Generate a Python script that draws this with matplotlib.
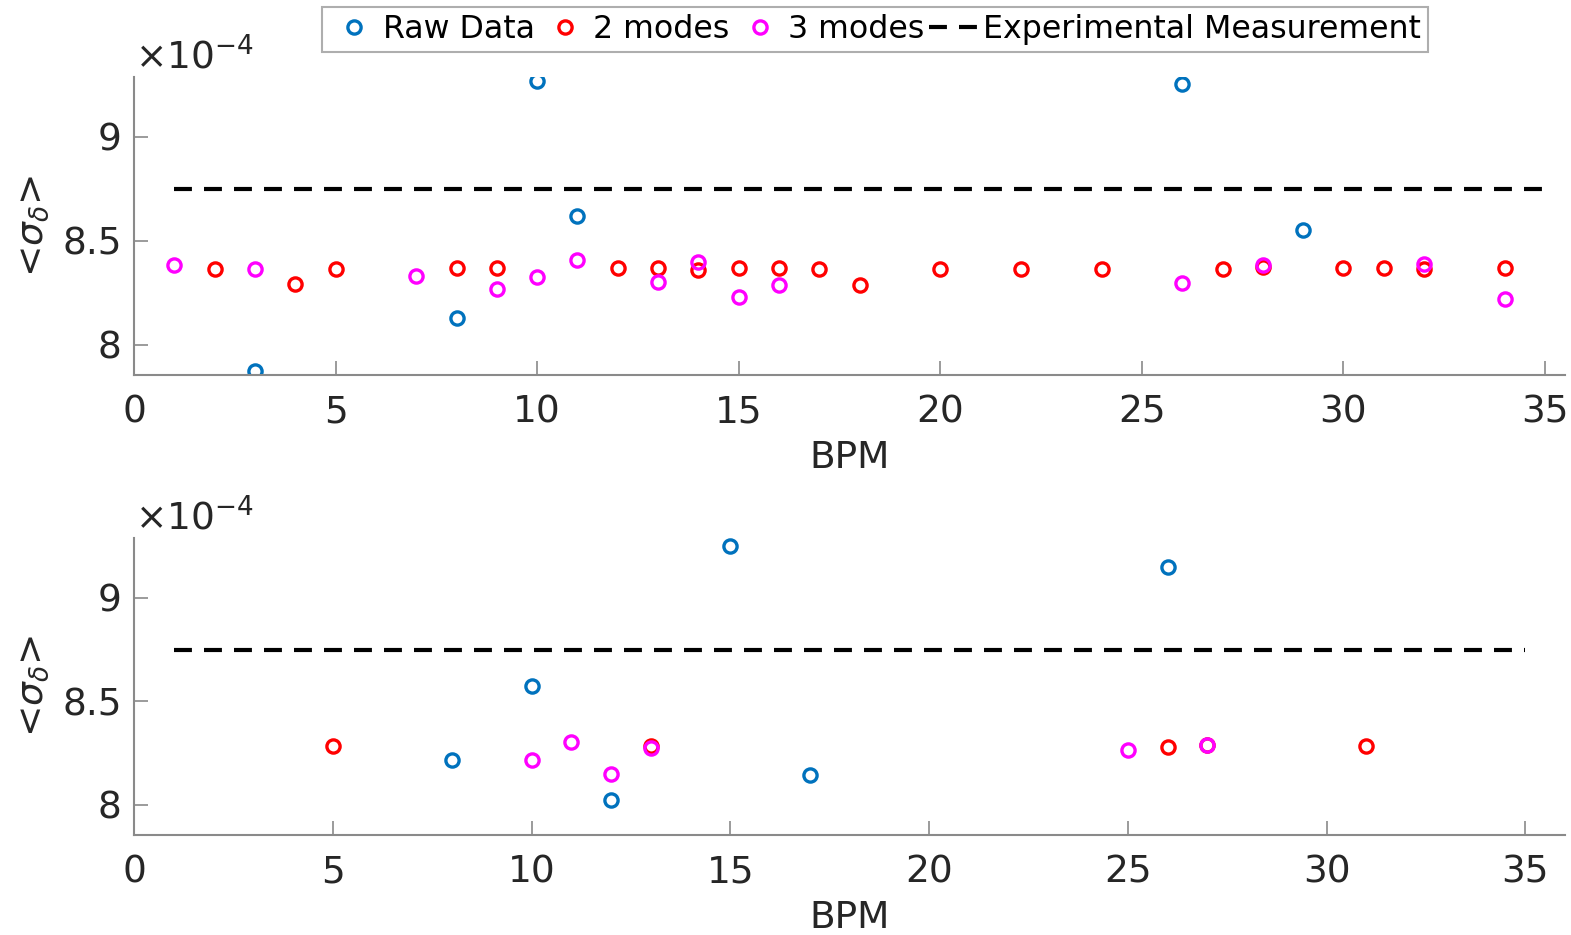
import matplotlib.pyplot as plt
from matplotlib.lines import Line2D

# values in units of 1e-4
top_raw_x = [3, 8, 10, 11, 26, 29]
top_raw_y = [7.874, 8.127, 9.267, 8.622, 9.255, 8.551]
top_2m_x = [2, 4, 5, 8, 9, 12, 13, 14, 15, 16, 17, 18, 20, 22, 24, 27, 28, 30, 31, 32, 34]
top_2m_y = [8.364, 8.293, 8.364, 8.369, 8.369, 8.369, 8.369, 8.362, 8.369, 8.369, 8.364,
            8.288, 8.364, 8.364, 8.364, 8.364, 8.374, 8.369, 8.369, 8.367, 8.369]
top_3m_x = [1, 3, 7, 9, 10, 11, 13, 14, 15, 16, 26, 28, 32, 34]
top_3m_y = [8.382, 8.364, 8.332, 8.270, 8.325, 8.407, 8.300, 8.398, 8.228, 8.288,
            8.295, 8.382, 8.390, 8.221]

bot_raw_x = [8, 10, 12, 15, 17, 26]
bot_raw_y = [8.218, 8.575, 8.026, 9.249, 8.144, 9.149]
bot_2m_x = [5, 13, 26, 27, 31]
bot_2m_y = [8.286, 8.286, 8.279, 8.291, 8.286]
bot_3m_x = [10, 11, 12, 13, 25, 27]
bot_3m_y = [8.218, 8.305, 8.149, 8.274, 8.266, 8.289]

exp_x = [1, 35]
exp_y = [8.75, 8.75]

xticks = [0, 5, 10, 15, 20, 25, 30, 35]
yticks = [8, 8.5, 9]
ytick_labels = ['8', '8.5', '9']

BLUE = '#0072BD'
RED = '#FF0000'
MAG = '#FF00FF'
SPINE = '#8a8a8a'
TXT = '#262626'

plt.rcParams['font.family'] = ['DejaVu Sans']
plt.rcParams['mathtext.fontset'] = 'dejavusans'

fig = plt.figure(figsize=(15.71, 9.35), dpi=100)
ax1 = fig.add_axes([0.0853, 0.599, 0.911, 0.319])
ax2 = fig.add_axes([0.0853, 0.107, 0.911, 0.318])

mk = dict(linestyle='none', marker='o', markersize=9.5, markeredgewidth=2.4,
          markerfacecolor='none')


def draw_panel(ax, raw, m2, m3, xmax):
    ax.plot(raw[0], raw[1], markeredgecolor=BLUE, **mk)
    ax.plot(m2[0], m2[1], markeredgecolor=RED, **mk)
    ax.plot(m3[0], m3[1], markeredgecolor=MAG, **mk)
    ax.plot(exp_x, exp_y, color='black', lw=3, linestyle=(0, (4.3, 2.9)))
    ax.set_xlim(0, xmax)
    ax.set_ylim(7.855, 9.29)
    ax.set_xticks(xticks)
    ax.set_yticks(yticks)
    ax.set_yticklabels(ytick_labels)
    for s in ['top', 'right']:
        ax.spines[s].set_visible(False)
    for s in ['left', 'bottom']:
        ax.spines[s].set_color(SPINE)
        ax.spines[s].set_linewidth(1.5)
    ax.tick_params(direction='in', length=10, width=1.2, color=SPINE,
                   labelsize=27, labelcolor=TXT)
    ax.tick_params(axis='y', pad=9)
    ax.tick_params(axis='x', pad=14)
    ax.set_xlabel('BPM', fontsize=27, color=TXT, labelpad=7)
    ax.set_ylabel(r'<$\sigma_\delta$>', fontsize=27, color=TXT, labelpad=8)
    ax.annotate(r'$\times10^{-4}$', xy=(0, 1), xycoords='axes fraction',
                xytext=(1, 6), textcoords='offset points', ha='left',
                va='baseline', fontsize=27, color=TXT, annotation_clip=False)


draw_panel(ax1, (top_raw_x, top_raw_y), (top_2m_x, top_2m_y), (top_3m_x, top_3m_y), 35.5)
draw_panel(ax2, (bot_raw_x, bot_raw_y), (bot_2m_x, bot_2m_y), (bot_3m_x, bot_3m_y), 36)

handles = [
    Line2D([], [], markeredgecolor=BLUE, **mk),
    Line2D([], [], markeredgecolor=RED, **mk),
    Line2D([], [], markeredgecolor=MAG, **mk),
    Line2D([], [], color='black', lw=3, linestyle=(0, (4.3, 2.9))),
]
labels = ['Raw Data', '2 modes', '3 modes', 'Experimental Measurement']
leg = fig.legend(handles, labels, loc='center', bbox_to_anchor=(0.557, 0.968),
                 ncol=4, fontsize=22.8, frameon=True, fancybox=False,
                 handlelength=1.6, handletextpad=0.1, columnspacing=0.15,
                 borderpad=0.22, borderaxespad=0)
leg.get_frame().set_edgecolor('#9a9a9a')
leg.get_frame().set_linewidth(1.5)
for t in leg.get_texts():
    t.set_color('black')

fig.savefig('out.png', dpi=100)
